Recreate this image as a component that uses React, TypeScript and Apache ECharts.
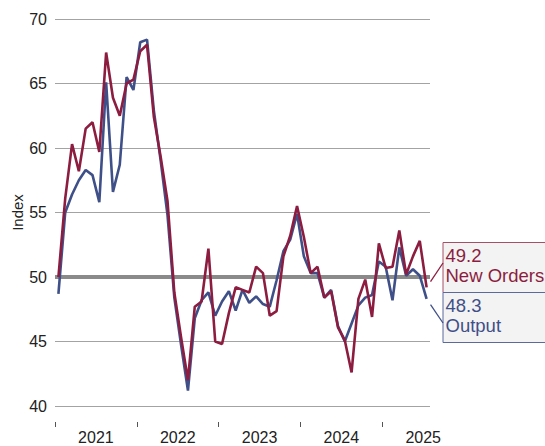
import React, { useEffect, useRef } from 'react';
import * as echarts from 'echarts';

const years = ['2021', '2022', '2023', '2024', '2025'];
const yTicks = [40, 45, 50, 55, 60, 65, 70];
const threshold = 50;
const seriesNames = ['New Orders', 'Output'];

// Monthly, Jan 2021 .. Jul 2025
const newOrders = [
  50.0, 56.1, 60.3, 58.2, 61.5, 62.0, 59.7, 67.4, 63.9, 62.5, 65.0, 65.3,
  67.5, 68.0, 62.4, 59.3, 55.9, 48.8, 45.3, 42.0, 47.7, 48.1, 52.2, 45.0,
  44.8, 47.2, 49.2, 49.0, 48.8, 50.8, 50.3, 47.0, 47.35, 51.6, 53.2, 55.5,
  53.1, 50.3, 50.8, 48.4, 48.9, 46.1, 45.1, 42.6, 48.3, 49.8, 46.9, 52.6,
  50.7, 50.8, 53.6, 50.2, 51.6, 52.8, 49.2,
];
const output = [
  48.7, 55.0, 56.4, 57.5, 58.3, 57.9, 55.8, 65.1, 56.6, 58.7, 65.5, 64.5,
  68.2, 68.4, 62.9, 59.0, 54.8, 48.4, 44.7, 41.2, 46.8, 48.2, 48.8, 47.0,
  48.1, 48.9, 47.4, 49.0, 48.0, 48.5, 47.9, 47.7, 49.75, 52.0, 52.9, 54.9,
  51.6, 50.3, 50.3, 48.4, 49.0, 46.2, 45.0, 46.4, 47.8, 48.4, 48.6, 51.2,
  50.8, 48.2, 52.3, 50.1, 50.6, 50.1, 48.3,
];

const RED = '#8c1d40';
const BLUE = '#3f4f88';
const FONT = '"Liberation Sans", Arial, sans-serif';

export default function App() {
  const ref = useRef<HTMLDivElement>(null);

  useEffect(() => {
    const el = ref.current;
    if (!el) return;
    const chart = echarts.init(el, null, { renderer: 'svg' });
    const n = newOrders.length;
    const toXY = (arr: number[]) => arr.map((v, i) => [i + 0.5, v]);

    chart.setOption({
      animation: false,
      textStyle: { fontFamily: FONT },
      grid: { left: 55, right: 115, top: 19, bottom: 40, containLabel: false, outerBoundsMode: 'none' },
      xAxis: {
        type: 'value',
        min: 0,
        max: n,
        offset: 16,
        axisLine: { show: false },
        axisTick: {
          show: true,
          customValues: years.map((_, k) => k * 12),
          length: 5,
          lineStyle: { color: '#555', width: 1 },
        },
        axisLabel: {
          customValues: years.map((_, k) => k * 12 + 6),
          formatter: (v: number) => years[Math.floor(v / 12)] ?? '',
          fontSize: 16,
          color: '#222',
          margin: 7,
          fontFamily: FONT,
        },
        splitLine: { show: false },
      },
      yAxis: {
        type: 'value',
        min: yTicks[0],
        max: yTicks[yTicks.length - 1],
        interval: 5,
        name: 'Index',
        nameLocation: 'middle',
        nameRotate: 90,
        nameGap: 30,
        nameMoveOverlap: false,
        nameTextStyle: { fontSize: 15, color: '#222', fontFamily: FONT },
        axisLine: { show: false },
        axisTick: { show: false },
        axisLabel: { fontSize: 16, color: '#222', margin: 8, fontFamily: FONT },
        splitLine: { show: true, lineStyle: { color: '#a3a3a3', width: 1 } },
      },
      series: [
        {
          type: 'line',
          data: [],
          silent: true,
          markLine: {
            z: 1,
            silent: true,
            symbol: 'none',
            label: { show: false },
            lineStyle: { color: '#8a8a8a', width: 4, type: 'solid' },
            data: [{ yAxis: threshold }],
          },
          z: 1,
        },
        {
          name: seriesNames[1],
          type: 'line',
          data: toXY(output),
          showSymbol: false,
          lineStyle: { color: BLUE, width: 2.6 },
          itemStyle: { color: BLUE },
          z: 3,
        },
        {
          name: seriesNames[0],
          type: 'line',
          data: toXY(newOrders),
          showSymbol: false,
          lineStyle: { color: RED, width: 2.6 },
          itemStyle: { color: RED },
          z: 4,
        },
      ],
    });

    const last = n - 1;
    const pR = chart.convertToPixel({ gridIndex: 0 }, [last + 0.5, newOrders[last]]) as number[];
    const pB = chart.convertToPixel({ gridIndex: 0 }, [last + 0.5, output[last]]) as number[];
    const boxX = 443;
    const leader = (p: number[], t: number[], color: string) => {
      const dx = t[0] - p[0];
      const dy = t[1] - p[1];
      const d = Math.hypot(dx, dy) || 1;
      const s = 7 / d;
      return {
        type: 'line',
        z: 10,
        shape: { x1: p[0] + dx * s, y1: p[1] + dy * s, x2: t[0], y2: t[1] },
        style: { stroke: color, lineWidth: 1.3 },
      };
    };
    const box = (y: number, color: string, border: string, text: string) => [
      {
        type: 'rect',
        z: 10,
        shape: { x: boxX, y, width: 120, height: 50 },
        style: { fill: '#f3f3f3', stroke: border, lineWidth: 1 },
      },
      {
        type: 'text',
        z: 11,
        x: boxX + 2.5,
        y: y + 3,
        style: {
          text,
          fill: color,
          fontSize: 18.5,
          fontFamily: FONT,
          lineHeight: 20,
          verticalAlign: 'top',
          align: 'left',
        },
      },
    ];

    chart.setOption({
      graphic: [
        ...box(242.5, RED, '#a65068', `${newOrders[last].toFixed(1)}\n${seriesNames[0]}`),
        ...box(292.5, BLUE, '#5a69a0', `${output[last].toFixed(1)}\n${seriesNames[1]}`),
        leader(pR, [boxX, 263], RED),
        leader(pB, [boxX, 323], BLUE),
      ],
    });

    return () => chart.dispose();
  }, []);

  return (
    <div
      ref={ref}
      style={{ position: 'fixed', left: 0, top: 0, width: 545, height: 446, background: '#fff' }}
    />
  );
}
